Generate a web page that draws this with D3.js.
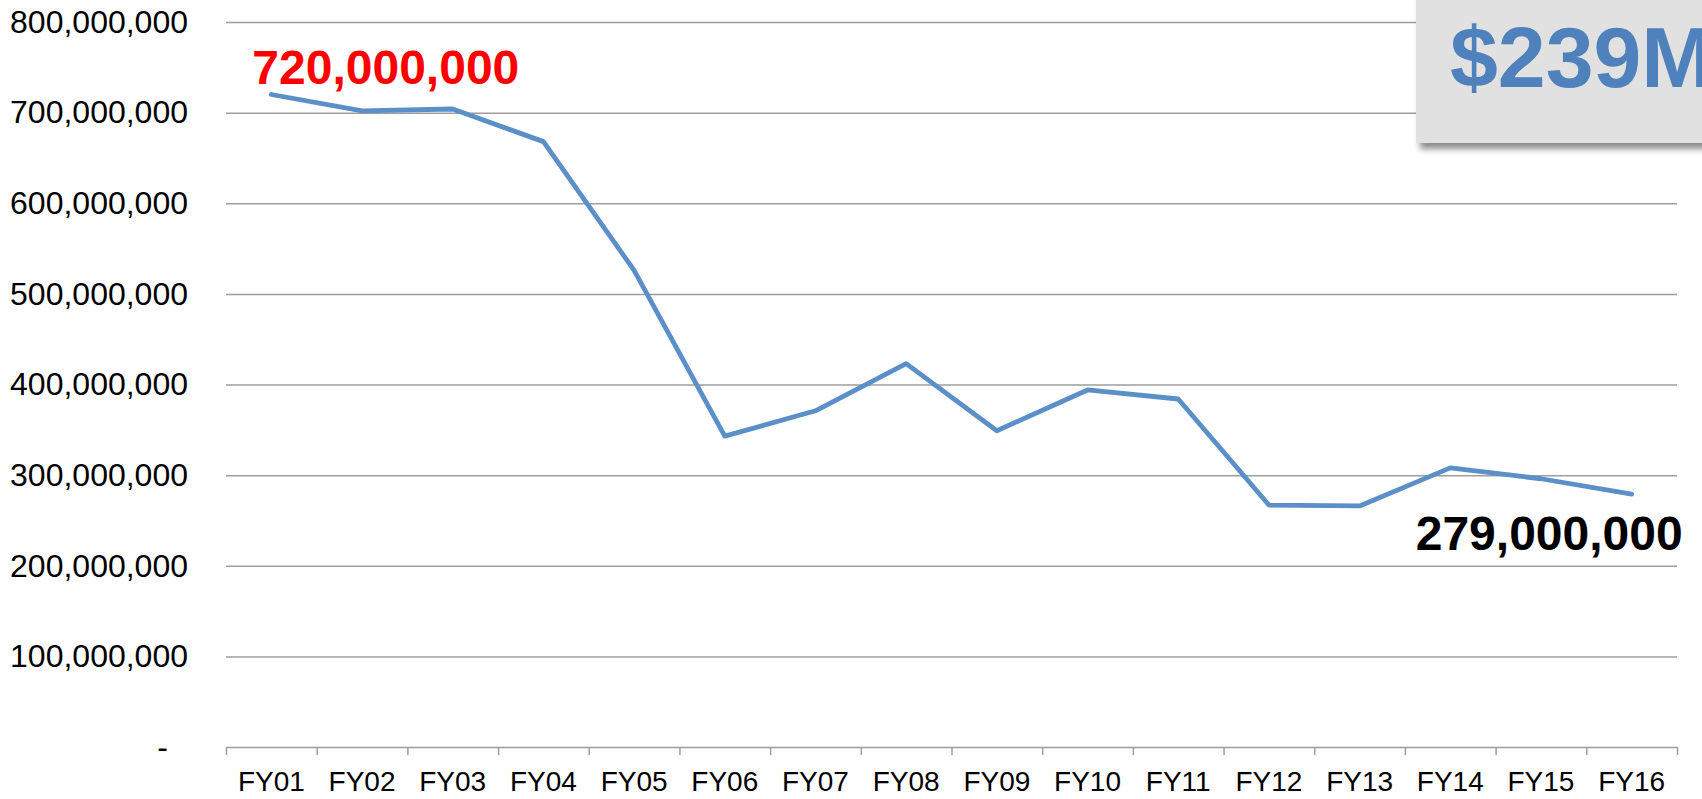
<!DOCTYPE html>
<html>
<head>
<meta charset="utf-8">
<script src="https://cdn.jsdelivr.net/npm/d3@7"></script>
<style>
  html, body { margin: 0; padding: 0; background: #fff; overflow: hidden; }
  svg { display: block; font-family: "Liberation Sans", Arial, sans-serif; }
</style>
</head>
<body>
<svg id="chart" width="1702" height="799"></svg>
<script>
// fiscal years on the x axis
var years = ['FY01', 'FY02', 'FY03', 'FY04', 'FY05', 'FY06', 'FY07', 'FY08',
             'FY09', 'FY10', 'FY11', 'FY12', 'FY13', 'FY14', 'FY15', 'FY16'];

// spending per year
var amounts = [720e6, 702e6, 704e6, 668e6, 526e6, 343e6, 371e6, 423e6,
               349e6, 394e6, 384e6, 267e6, 266e6, 308e6, 296e6, 279e6];

var yTicks = [0, 100e6, 200e6, 300e6, 400e6, 500e6, 600e6, 700e6, 800e6];

var firstLabel = '720,000,000';
var lastLabel = '279,000,000';
var calloutText = '$239M';

var svg = d3.select('#chart');
var margin = { left: 226, right: 25, top: 22, bottom: 52 };
var W = 1702, H = 799;
var plotW = W - margin.left - margin.right;
var plotH = H - margin.top - margin.bottom;

var x = d3.scaleBand().domain(years).range([0, plotW]);
var xEdge = d3.scaleLinear().domain([0, years.length]).range([0, plotW]);
var y = d3.scaleLinear().domain([0, 800e6]).range([plotH, 0]);

var g = svg.append('g').attr('transform', 'translate(' + margin.left + ',' + margin.top + ')');

// horizontal gridlines + y labels
var fmt = d3.format(',');
var yAxis = g.append('g')
  .call(d3.axisLeft(y).tickValues(yTicks).tickSize(-plotW).tickPadding(38)
    .tickFormat(function (d) { return d === 0 ? '-' : fmt(d); }));
yAxis.select('.domain').remove();
yAxis.selectAll('line').attr('stroke', '#9d9d9d').attr('stroke-width', 1.5)
  .filter(function (d) { return d === 0; }).remove();
yAxis.selectAll('text').attr('fill', '#000').style('font-size', '32px')
  .filter(function (d) { return d === 0; }).attr('dx', -20);

// x axis line with ticks at the band edges
var xTicks = g.append('g').attr('transform', 'translate(0,' + plotH + ')')
  .call(d3.axisBottom(xEdge).tickValues(d3.range(years.length + 1)).tickSize(8)
    .tickSizeOuter(0).tickFormat(''));
xTicks.selectAll('line, path').attr('stroke', '#9d9d9d').attr('stroke-width', 1.5);

// x labels at the band centres
var xLabels = g.append('g').attr('transform', 'translate(0,' + plotH + ')')
  .call(d3.axisBottom(x).tickSize(0).tickPadding(24));
xLabels.select('.domain').remove();
xLabels.selectAll('text').attr('fill', '#000').style('font-size', '28px');

// the line
var line = d3.line()
  .x(function (d, i) { return x(years[i]) + x.bandwidth() / 2; })
  .y(function (d) { return y(d); });

g.append('path')
  .datum(amounts)
  .attr('d', line)
  .attr('fill', 'none')
  .attr('stroke', '#5b8fc8')
  .attr('stroke-width', 4.8)
  .attr('stroke-linejoin', 'round')
  .attr('stroke-linecap', 'round');

// first / last value labels
g.append('text')
  .attr('x', x(years[0]) + x.bandwidth() / 2 - 19)
  .attr('y', y(amounts[0]) - 11)
  .attr('fill', '#ff0000')
  .style('font-size', '48px')
  .style('font-weight', 'bold')
  .text(firstLabel);

var n = amounts.length - 1;
g.append('text')
  .attr('x', x(years[n]) + x.bandwidth() / 2 + 51)
  .attr('y', y(amounts[n]) + 56)
  .attr('text-anchor', 'end')
  .attr('fill', '#000')
  .style('font-size', '48px')
  .style('font-weight', 'bold')
  .text(lastLabel);

// callout box, top right
var defs = svg.append('defs');
var f = defs.append('filter').attr('id', 'shadow')
  .attr('x', '-10%').attr('y', '-10%').attr('width', '130%').attr('height', '140%');
f.append('feDropShadow').attr('dx', 4).attr('dy', 6).attr('stdDeviation', 3)
  .attr('flood-color', '#000').attr('flood-opacity', 0.45);

svg.append('rect')
  .attr('x', 1416).attr('y', -10).attr('width', 320).attr('height', 153)
  .attr('fill', '#e1e1e1')
  .attr('filter', 'url(#shadow)');

svg.append('text')
  .attr('x', 1450).attr('y', 87)
  .attr('fill', '#4f81bd')
  .style('font-size', '86px')
  .style('font-weight', 'bold')
  .text(calloutText);
</script>
</body>
</html>
